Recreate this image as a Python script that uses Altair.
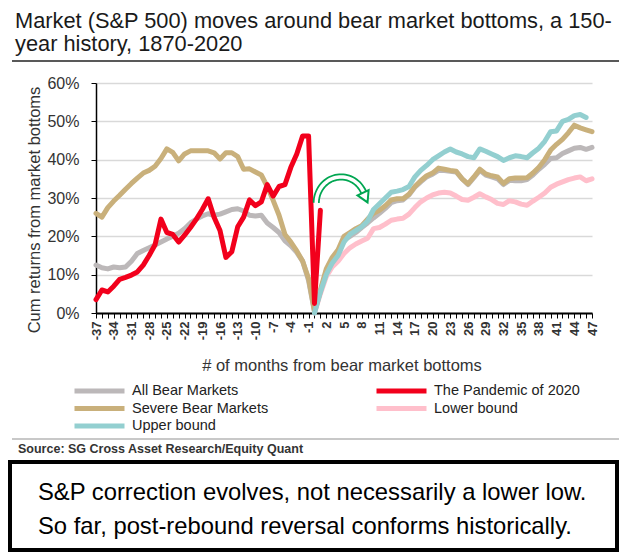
import altair as alt
import numpy as np
import pandas as pd

FONT = 'Liberation Sans'

# cumulative returns (%), month -37 .. 47 unless noted
all_bear = [12.5, 11.8, 11.5, 12, 11.8, 12, 13.5, 15.5, 16.3, 17, 17.7, 18.5, 19.3,
            20, 20.8, 22, 23.5, 24.5, 25.3, 25.9, 25.5, 25.8, 26.4, 27, 27.2, 26.6,
            25.5, 25.3, 25.5, 23.5, 22.3, 21, 18.8, 17.5, 15.8, 13.5, 8.5, 0.3,
            5.5, 11, 14, 16, 19, 20, 21, 22.3, 23.5, 24.8, 26, 27.3, 28.8, 29.3,
            29.5, 30.8, 32.8, 34.2, 35.5, 36.2, 37.2, 37.2, 37, 36.8, 35, 33.5,
            35.3, 37.2, 36, 35.5, 35, 33.5, 34.6, 34.5, 34.5, 34.8, 36, 37.5, 38.8,
            40.3, 40.5, 41.6, 42.3, 43, 43.2, 42.7, 43.2]
severe = [26, 25, 27.5, 29.2, 30.7, 32.3, 33.8, 35.2, 36.5, 37.2, 38.3, 40.3, 42.8,
          41.9, 39.7, 41.5, 42.3, 42.3, 42.3, 42.3, 41.8, 40.2, 41.8, 41.8, 40.8,
          37.5, 37.6, 36.8, 36, 33, 29.4, 25.5, 20.5, 18.5, 16.2, 13.5, 9, 0.5,
          6, 11.5, 14.5, 16.5, 20, 21, 22, 22.8, 24.5, 26, 26.8, 28, 29.5, 29.8,
          29.8, 31, 33, 34.5, 35.8, 36.5, 37.8, 37.5, 37.2, 37, 35, 33.7, 35.5,
          37.5, 36.3, 35.8, 35.5, 33.8, 35, 35.2, 35.2, 35.3, 36.5, 38, 40, 42.5,
          44, 45.3, 47, 49, 48.3, 47.8, 47.3]
# month -37 .. 1
pandemic = [3.5, 6, 5.5, 7, 8.8, 9.3, 9.9, 10.7, 12.5, 15, 17.8, 24.5, 21, 20.5,
            18.5, 20.3, 22.3, 24.5, 27, 29.8, 25, 21.5, 14.5, 16, 22.5, 25, 29.5,
            28, 29, 33.5, 30.5, 33, 33.5, 38, 41.5, 46.2, 46.2, 2.5, 26.8]
# month 0 .. 46
upper = [0, 5.5, 10, 13, 15, 18.5, 20.5, 21.5, 22.5, 24, 27, 28.5, 30, 31.5, 31.8,
         32.2, 33, 35.5, 37.2, 38.5, 40, 41, 42, 42.8, 42, 41.5, 40.8, 40.5, 42.8,
         42.2, 41.5, 40.8, 39.8, 40.5, 41, 40.8, 40.5, 41.8, 43, 44.8, 47.3, 47.5,
         50, 50.5, 51.5, 51.8, 51]
# month 0 .. 47
lower = [0, 5, 9.5, 12, 13.5, 15.5, 17, 18, 18.8, 19.5, 22, 22.3, 23.2, 24.2, 24.5,
         24.7, 25.8, 27.5, 29, 30, 30.8, 31.3, 31.5, 31.3, 30.5, 29.6, 29.4, 30.2,
         31.1, 30.3, 29.6, 28.6, 28.3, 29.3, 29, 28.4, 28.1, 29.2, 30.2, 31.3, 32.8,
         33.6, 34.2, 34.8, 35.2, 35.5, 34.5, 35]

# legend fills column by column: left column first, then right
legend_order = ['All Bear Markets', 'Severe Bear Markets', 'Upper bound',
                'The Pandemic of 2020', 'Lower bound']
colors = ['#bcb8b9', '#c9b07b', '#93cfd0', '#f2001c', '#ffbfcb']
widths = [5, 5, 3.5, 5, 3]


def series_frame(name, start, values):
    return pd.DataFrame({'series': name,
                         'month': list(range(start, start + len(values))),
                         'value': values})


# rows in drawing order (bottom first)
df = pd.concat([series_frame('Lower bound', 0, lower),
                series_frame('All Bear Markets', -37, all_bear),
                series_frame('Severe Bear Markets', -37, severe),
                series_frame('Upper bound', 0, upper),
                series_frame('The Pandemic of 2020', -37, pandemic)])

x_scale = alt.Scale(domain=[-37, 47], nice=False, zero=False)
y_scale = alt.Scale(domain=[0, 60], nice=False)
x_axis = alt.Axis(values=list(range(-37, 48)), title=None, grid=False,
                  labelExpr="(datum.value + 37) % 3 == 0 ? datum.value : ''",
                  labelAngle=270, labelFontSize=13, labelFontWeight='bold',
                  labelColor='#333', labelFont=FONT, labelPadding=3, labelOverlap=False,
                  tickColor='black', tickSize=5, domainColor='black', domainWidth=2)
y_axis = alt.Axis(values=[0, 10, 20, 30, 40, 50, 60], title=None,
                  labelExpr="datum.value + '%'", labelFontSize=16, labelColor='#333',
                  labelFont=FONT, labelPadding=12, labelOverlap=False,
                  tickColor='black', tickSize=5, domainColor='black', domainWidth=1.5,
                  gridColor='#d9d9d9', gridWidth=1.5)
legend = alt.Legend(orient='none', legendX=-24, legendY=300, columns=2, title=None,
                    symbolType='stroke', symbolSize=2500, symbolStrokeWidth=5,
                    clipHeight=16, labelFontSize=14.5, labelFont=FONT, labelColor='#222',
                    labelOffset=5, columnPadding=105, rowPadding=1.5, padding=0,
                    labelLimit=300)

lines = alt.Chart(df).mark_line(strokeJoin='round', strokeCap='round').encode(
    x=alt.X('month:Q', scale=x_scale, axis=x_axis),
    y=alt.Y('value:Q', scale=y_scale, axis=y_axis),
    color=alt.Color('series:N', scale=alt.Scale(domain=legend_order, range=colors),
                    legend=legend),
    strokeWidth=alt.StrokeWidth('series:N', scale=alt.Scale(domain=legend_order, range=widths),
                                legend=None),
)

# green turn-around arrow drawn over the first months after the bottom
arc_cx, arc_cy, arc_rx, arc_ry = 4.5, 28.7, 4.2, 6.8
theta = np.linspace(np.pi, np.radians(12), 40)
arc = pd.DataFrame({'month': arc_cx + arc_rx * np.cos(theta),
                    'value': arc_cy + arc_ry * np.sin(theta),
                    'k': range(len(theta))})
arc_enc = dict(x=alt.X('month:Q', scale=x_scale, axis=x_axis),
               y=alt.Y('value:Q', scale=y_scale, axis=y_axis), order='k:Q')
arc_outer = alt.Chart(arc).mark_line(color='#00a651', strokeWidth=7).encode(**arc_enc)
arc_inner = alt.Chart(arc).mark_line(color='white', strokeWidth=3.5).encode(**arc_enc)
head = alt.Chart(arc.tail(1)).mark_point(shape='triangle-up', filled=True, fill='white',
                                         stroke='#00a651', strokeWidth=2, size=150,
                                         angle=155, opacity=1).encode(
    x=alt.X('month:Q', scale=x_scale, axis=x_axis),
    y=alt.Y('value:Q', scale=y_scale, axis=y_axis))


def text(t, x, y, size, **kw):
    return alt.Chart(pd.DataFrame({'t': [t]})).mark_text(
        fontSize=size, font=FONT, **kw
    ).encode(x=alt.value(x), y=alt.value(y), text='t:N')


def hrule(y, color, width):
    return alt.Chart(pd.DataFrame({'a': [0]})).mark_rule(color=color, strokeWidth=width).encode(
        x=alt.value(-84), x2=alt.value(526), y=alt.value(y))


box = alt.Chart(pd.DataFrame({'a': [0]})).mark_rect(fill='white', stroke='black',
                                                     strokeWidth=4).encode(
    x=alt.value(-86), x2=alt.value(521), y=alt.value(379), y2=alt.value(467))

chart = alt.layer(
    lines,
    arc_outer, arc_inner, head,
    text('Market (S&P 500) moves around bear market bottoms, a 150-', -81, -55, 21.8,
         align='left', baseline='alphabetic', color='#1a1a1a'),
    text('year history, 1870-2020', -81, -32, 21.8, align='left', baseline='alphabetic',
         color='#1a1a1a'),
    hrule(-22, '#222', 1.5),
    text('Cum returns from market bottoms', -61, 127, 16.5, angle=270, align='center',
         baseline='middle', color='#333'),
    text('# of months from bear market bottoms', 246, 283, 16.5, align='center',
         baseline='middle', color='#333'),
    hrule(356, '#c8c8c8', 2),
    text('Source: SG Cross Asset Research/Equity Quant', -78, 366, 12.5, align='left',
         baseline='middle', fontWeight='bold', color='#333'),
    box,
    text('S&P correction evolves, not necessarily a lower low.', -58, 410, 23.8,
         align='left', baseline='middle', color='black'),
    text('So far, post-rebound reversal conforms historically.', -58, 444, 23.8,
         align='left', baseline='middle', color='black'),
).properties(
    width=496, height=230,
    autosize=alt.AutoSizeParams(type='none'),
    padding={'left': 88, 'top': 75, 'right': 27, 'bottom': 239},
    background='white',
).configure_view(stroke=None)

chart.save('out.html', embed_options={'renderer': 'svg', 'actions': False})
